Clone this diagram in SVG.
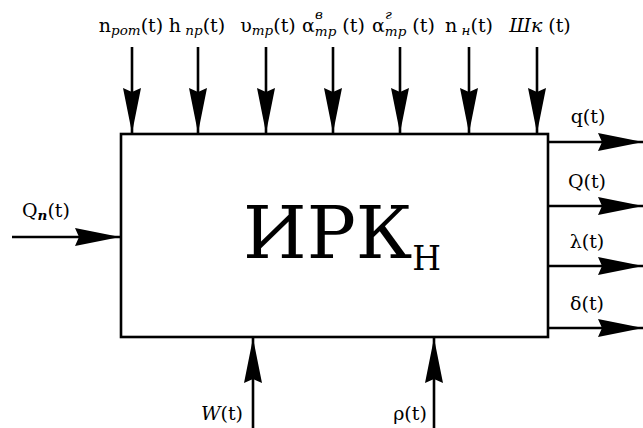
<svg xmlns="http://www.w3.org/2000/svg" width="643" height="428" viewBox="0 0 643 428">
<defs>
<style>
.ln{stroke:#000;stroke-width:2.6;fill:none}
.sb{font-size:13.5px;font-style:italic}
</style>
<marker id="ah" markerUnits="userSpaceOnUse" viewBox="-46 -10 48 20" refX="0" refY="0" markerWidth="48" markerHeight="20" orient="auto">
<path d="M0,0 L-45,-9 L-41,0 L-45,9 Z" fill="#000"/>
</marker>
</defs>
<rect x="0" y="0" width="643" height="428" fill="#fff"/>
<g id="irk">
<rect x="121" y="134" width="427" height="203" class="ln"/>
<text font-family="DejaVu Serif, serif" font-size="73" x="243" y="258">ИРК<tspan font-size="33" dy="12">Н</tspan></text>
</g>
<g id="connectors">
<line class="ln" x1="132" y1="47" x2="132" y2="133" marker-end="url(#ah)"/>
<line class="ln" x1="198" y1="47" x2="198" y2="133" marker-end="url(#ah)"/>
<line class="ln" x1="266" y1="47" x2="266" y2="133" marker-end="url(#ah)"/>
<line class="ln" x1="333" y1="47" x2="333" y2="133" marker-end="url(#ah)"/>
<line class="ln" x1="400" y1="47" x2="400" y2="133" marker-end="url(#ah)"/>
<line class="ln" x1="469" y1="47" x2="469" y2="133" marker-end="url(#ah)"/>
<line class="ln" x1="537" y1="47" x2="537" y2="133" marker-end="url(#ah)"/>
<line class="ln" x1="12" y1="237" x2="120" y2="237" marker-end="url(#ah)"/>
<line class="ln" x1="548" y1="142" x2="643" y2="142" marker-end="url(#ah)"/>
<line class="ln" x1="548" y1="206" x2="643" y2="206" marker-end="url(#ah)"/>
<line class="ln" x1="548" y1="266" x2="643" y2="266" marker-end="url(#ah)"/>
<line class="ln" x1="548" y1="328" x2="643" y2="328" marker-end="url(#ah)"/>
<line class="ln" x1="253" y1="428" x2="253" y2="338" marker-end="url(#ah)"/>
<line class="ln" x1="434" y1="428" x2="434" y2="338" marker-end="url(#ah)"/>
</g>
<g id="labels" font-family="DejaVu Serif, serif" font-size="19" fill="#000">
<text x="131" y="32" text-anchor="middle">n<tspan class="sb" dy="3">рот</tspan><tspan dy="-3">(t)</tspan></text>
<text x="197" y="32" text-anchor="middle">h<tspan class="sb" dy="3"> пр</tspan><tspan dy="-3">(t)</tspan></text>
<text x="268" y="32" text-anchor="middle">υ<tspan class="sb" dy="3">тр</tspan><tspan dy="-3">(t)</tspan></text>
<text x="302" y="32">α<tspan class="sb" dy="4">тр</tspan><tspan dy="-4"> (t)</tspan></text>
<text x="315" y="19" class="sb" font-size="11">в</text>
<text x="372" y="32">α<tspan class="sb" dy="4">тр</tspan><tspan dy="-4"> (t)</tspan></text>
<text x="385" y="19" class="sb" font-size="11">г</text>
<text x="469" y="32" text-anchor="middle">n<tspan class="sb" dy="3"> н</tspan><tspan dy="-3">(t)</tspan></text>
<text x="540" y="32" text-anchor="middle"><tspan font-style="italic">Шк</tspan> (t)</text>
<text x="22" y="217">Q<tspan class="sb" font-weight="bold" dy="3">п</tspan><tspan dy="-3">(t)</tspan></text>
<text x="588" y="123" text-anchor="middle">q(t)</text>
<text x="587" y="188" text-anchor="middle">Q(t)</text>
<text x="587" y="248" text-anchor="middle">λ(t)</text>
<text x="587" y="310" text-anchor="middle">δ(t)</text>
<text x="222" y="420" text-anchor="middle"><tspan font-style="italic">W</tspan>(t)</text>
<text x="410" y="420" text-anchor="middle">ρ(t)</text>
</g>
</svg>
